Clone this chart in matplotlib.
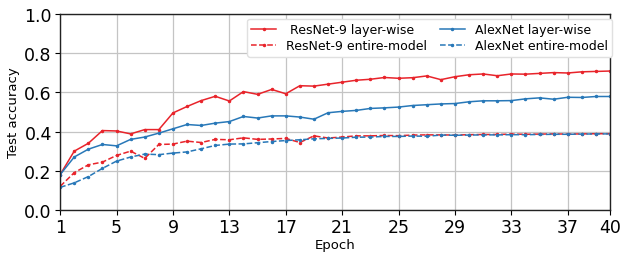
import numpy as np
import matplotlib
matplotlib.use("Agg")
import matplotlib.pyplot as plt

epochs = np.arange(1, 41)

resnet_layer = [0.18, 0.30, 0.34, 0.405, 0.403, 0.388, 0.41, 0.41, 0.495, 0.528,
                0.558, 0.58, 0.556, 0.604, 0.59, 0.615, 0.593, 0.634, 0.632, 0.642,
                0.652, 0.662, 0.667, 0.676, 0.672, 0.675, 0.684, 0.665, 0.68, 0.69,
                0.694, 0.685, 0.694, 0.693, 0.697, 0.701, 0.699, 0.705, 0.707, 0.709]
resnet_entire = [0.12, 0.19, 0.23, 0.244, 0.278, 0.30, 0.263, 0.334, 0.336, 0.351,
                 0.344, 0.36, 0.358, 0.368, 0.36, 0.362, 0.365, 0.344, 0.378, 0.367,
                 0.372, 0.378, 0.378, 0.38, 0.379, 0.382, 0.383, 0.383, 0.382, 0.384,
                 0.385, 0.385, 0.387, 0.386, 0.387, 0.388, 0.387, 0.388, 0.389, 0.389]
alex_layer = [0.18, 0.27, 0.31, 0.334, 0.327, 0.36, 0.372, 0.392, 0.414, 0.436,
              0.431, 0.443, 0.451, 0.477, 0.469, 0.48, 0.48, 0.474, 0.463, 0.496,
              0.503, 0.508, 0.518, 0.521, 0.525, 0.533, 0.537, 0.541, 0.543, 0.552,
              0.557, 0.557, 0.558, 0.567, 0.572, 0.565, 0.575, 0.574, 0.579, 0.579]
alex_entire = [0.115, 0.138, 0.17, 0.212, 0.249, 0.27, 0.285, 0.282, 0.29, 0.296,
               0.312, 0.329, 0.336, 0.337, 0.343, 0.349, 0.354, 0.358, 0.363, 0.365,
               0.367, 0.371, 0.372, 0.375, 0.375, 0.377, 0.376, 0.382, 0.381, 0.382,
               0.383, 0.383, 0.384, 0.384, 0.385, 0.386, 0.386, 0.387, 0.388, 0.388]

red = '#e8242b'
blue = '#2878b8'

fig = plt.figure(figsize=(6.2, 2.55), dpi=100)
ax = fig.add_axes([0.097, 0.173, 0.887, 0.768])

ax.plot(epochs, resnet_layer, '-', color=red, marker='.', markersize=3, lw=1.1, label=' ResNet-9 layer-wise')
ax.plot(epochs, resnet_entire, '--', color=red, marker='.', markersize=3, lw=1.1, label='ResNet-9 entire-model')
ax.plot(epochs, alex_layer, '-', color=blue, marker='.', markersize=3, lw=1.1, label='AlexNet layer-wise')
ax.plot(epochs, alex_entire, '--', color=blue, marker='.', markersize=3, lw=1.1, label='AlexNet entire-model')

ax.set_xlim(1, 40)
ax.set_ylim(0, 1.0)
ax.set_xticks([1, 5, 9, 13, 17, 21, 25, 29, 33, 37, 40])
ax.set_yticks(np.arange(0, 1.01, 0.2))
ax.yaxis.set_major_formatter(matplotlib.ticker.FormatStrFormatter('%.1f'))
ax.tick_params(labelsize=12.5, length=3.5, pad=2.5)
ax.grid(True, color='#c4c4c4', lw=0.9)
ax.set_axisbelow(True)
for s in ax.spines.values():
    s.set_color('#222222')
    s.set_linewidth(1.0)

ax.set_xlabel('Epoch', fontsize=9.5, labelpad=1)
ax.set_ylabel('Test accuracy', fontsize=9.5, labelpad=3)

ax.legend(ncol=2, fontsize=9, loc='upper right', bbox_to_anchor=(1.004, 0.975),
          borderaxespad=0, columnspacing=1.0, handlelength=2.0, handletextpad=0.8,
          labelspacing=0.25, framealpha=1.0,
          edgecolor='#e0e0e0', fancybox=True, borderpad=0.35)

fig.savefig('out.png', dpi=100)
